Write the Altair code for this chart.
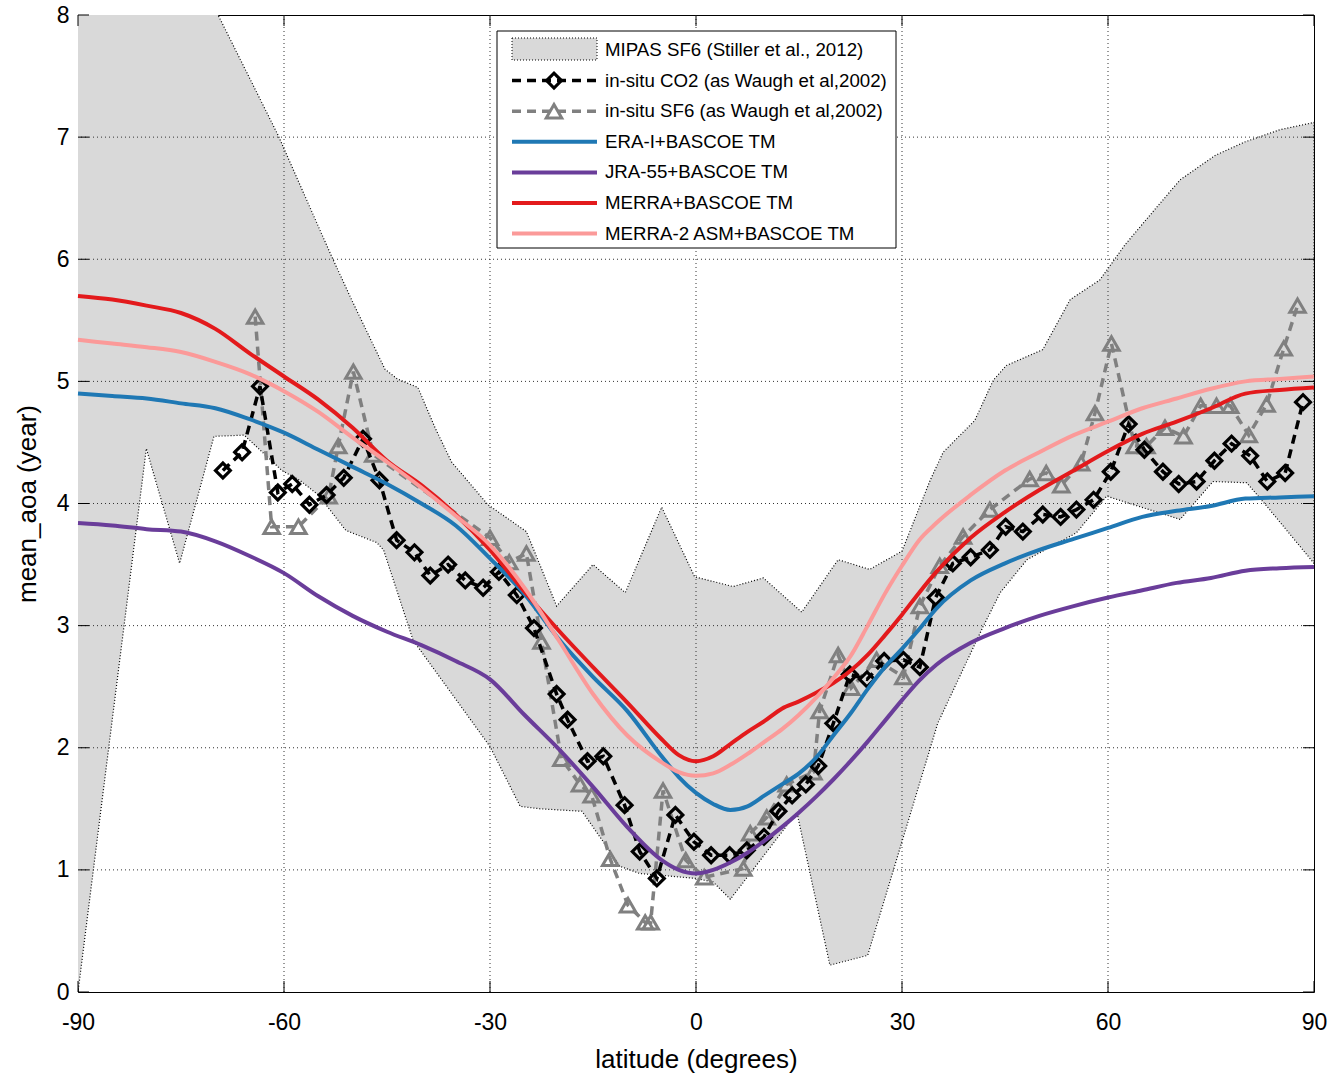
import altair as alt
import pandas as pd

# ---------------- data ----------------
mipas_upper_lat = [-90, -69.6, -60.9, -53.2, -50.0, -45.3, -43.5, -40.5, -38.0, -35.6, -30.3, -24.7,
                   -20.3, -15.0, -10.3, -5.0, -0.2, 5.4, 9.8, 15.4, 20.7, 25.3, 30.0, 34.1, 36.0,
                   40.6, 43.3, 45.2, 50.5, 54.5, 58.8, 62.5, 66.1, 70.5, 75.6, 79.9, 85.0, 90.0]
mipas_upper_val = [10.3, 8.0, 7.02, 6.04, 5.65, 5.10, 5.02, 4.95, 4.62, 4.34, 3.99, 3.77,
                   3.16, 3.50, 3.27, 3.97, 3.40, 3.32, 3.39, 3.11, 3.54, 3.46, 3.61, 4.19, 4.42,
                   4.68, 5.01, 5.13, 5.26, 5.67, 5.83, 6.12, 6.36, 6.65, 6.85, 6.96, 7.06, 7.12]

mipas_lower_lat = [-90, -80.05, -75.2, -70.2, -65.8, -60.3, -57.7, -55.0, -51.0, -46.5, -45.5, -41.2,
                   -30.0, -25.6, -22.7, -16.6, -13.0, -11.1, -8.2, -4.0, 0.0, 2.5, 5.0, 14.7, 19.5,
                   25.0, 35.2, 41.8, 44.3, 48.2, 55.4, 59.8, 70.5, 75.3, 80.2, 83.1, 90.0]
mipas_lower_val = [0.0, 4.45, 3.51, 4.55, 4.56, 4.27, 4.19, 4.07, 3.78, 3.68, 3.62, 2.88,
                   2.01, 1.52, 1.50, 1.48, 1.19, 1.03, 0.97, 0.95, 0.93, 0.90, 0.76, 1.47, 0.22,
                   0.30, 2.20, 2.99, 3.27, 3.54, 3.76, 4.06, 3.87, 4.18, 4.17, 3.98, 3.51]

co2_lat = [-68.9, -66.1, -63.5, -60.9, -58.8, -56.3, -53.8, -51.3, -48.5, -46.1, -43.6, -41.0,
           -38.7, -36.1, -33.6, -31.0, -28.7, -26.1, -23.6, -20.3, -18.7, -15.8, -13.5, -10.4,
           -8.2, -5.7, -3.0, -0.3, 2.2, 4.9, 7.4, 9.9, 12.0, 14.0, 16.0, 17.8, 20.0, 22.4,
           24.9, 27.4, 30.2, 32.6, 34.9, 37.4, 40.0, 42.8, 45.1, 47.6, 50.5, 53.1, 55.4, 57.9,
           60.4, 63.0, 65.3, 68.0, 70.3, 72.9, 75.5, 78.0, 80.7, 83.2, 85.8, 88.4]
co2_val = [4.27, 4.42, 4.96, 4.09, 4.16, 3.99, 4.07, 4.21, 4.53, 4.19, 3.70, 3.60,
           3.41, 3.50, 3.37, 3.31, 3.44, 3.25, 2.98, 2.44, 2.23, 1.89, 1.93, 1.53,
           1.15, 0.93, 1.45, 1.23, 1.12, 1.12, 1.16, 1.27, 1.48, 1.61, 1.70, 1.85, 2.20, 2.60,
           2.56, 2.71, 2.72, 2.66, 3.23, 3.51, 3.56, 3.62, 3.81, 3.77, 3.91, 3.89, 3.95, 4.03,
           4.26, 4.65, 4.44, 4.26, 4.16, 4.18, 4.35, 4.49, 4.39, 4.18, 4.25, 4.83]

sf6_lat = [-64.2, -61.8, -57.9, -53.5, -52.1, -49.9, -47.0, -30.0, -27.2, -24.7, -22.5, -19.6,
           -16.9, -15.2, -12.5, -9.9, -7.4, -6.6, -4.8, -1.5, 1.2, 6.9, 7.9, 10.3, 13.2, 17.1,
           18.0, 20.7, 22.6, 26.3, 30.2, 32.6, 35.5, 38.9, 42.8, 48.6, 51.0, 53.2, 56.1, 58.1,
           60.5, 63.9, 65.6, 68.3, 71.0, 73.5, 75.8, 77.8, 80.5, 83.1, 85.6, 87.6]
sf6_val = [5.53, 3.81, 3.81, 4.06, 4.47, 5.08, 4.40, 3.72, 3.52, 3.59, 2.87, 1.91,
           1.70, 1.61, 1.09, 0.71, 0.57, 0.57, 1.65, 1.08, 0.94, 1.01, 1.30, 1.43, 1.70, 1.80,
           2.30, 2.76, 2.49, 2.72, 2.58, 3.16, 3.49, 3.73, 3.95, 4.20, 4.25, 4.15, 4.33, 4.74,
           5.31, 4.47, 4.47, 4.62, 4.55, 4.80, 4.80, 4.80, 4.56, 4.81, 5.27, 5.62]

model_lat = [-90, -85, -80, -75, -70, -65, -60, -55, -50, -45, -40, -35, -30, -25, -20, -15, -10,
             -5, -2.5, 0, 2.5, 5, 7.5, 10, 12.5, 15, 17.5, 20, 22.5, 25, 27.5, 30, 32.5, 35,
             40, 45, 50, 55, 60, 65, 70, 75, 80, 85, 90]
era_val = [4.90, 4.88, 4.86, 4.82, 4.78, 4.69, 4.58, 4.44, 4.30, 4.16, 4.00, 3.82, 3.55, 3.26,
           2.89, 2.58, 2.30, 1.93, 1.76, 1.63, 1.54, 1.49, 1.52, 1.61, 1.70, 1.79, 1.92, 2.10,
           2.28, 2.48, 2.66, 2.81, 2.97, 3.14, 3.37, 3.51, 3.62, 3.71, 3.80, 3.89, 3.94, 3.98,
           4.04, 4.05, 4.06]
jra_val = [3.84, 3.82, 3.79, 3.77, 3.69, 3.57, 3.43, 3.24, 3.08, 2.95, 2.84, 2.71, 2.56, 2.27,
           1.99, 1.68, 1.35, 1.08, 1.00, 0.97, 1.00, 1.06, 1.14, 1.24, 1.35, 1.47, 1.60, 1.74,
           1.89, 2.05, 2.22, 2.39, 2.55, 2.68, 2.86, 2.98, 3.08, 3.16, 3.23, 3.29, 3.35, 3.39,
           3.45, 3.47, 3.48]
merra_val = [5.70, 5.67, 5.62, 5.56, 5.43, 5.23, 5.04, 4.85, 4.62, 4.35, 4.15, 3.91, 3.62, 3.28,
             2.96, 2.66, 2.37, 2.07, 1.94, 1.89, 1.93, 2.03, 2.13, 2.22, 2.32, 2.38, 2.45, 2.53,
             2.63, 2.76, 2.92, 3.09, 3.27, 3.44, 3.72, 3.93, 4.11, 4.27, 4.43, 4.57, 4.67, 4.78,
             4.90, 4.93, 4.95]
merra2_val = [5.34, 5.31, 5.28, 5.24, 5.16, 5.06, 4.92, 4.75, 4.54, 4.34, 4.13, 3.90, 3.66, 3.31,
              2.88, 2.44, 2.10, 1.88, 1.80, 1.77, 1.79, 1.86, 1.95, 2.05, 2.15, 2.27, 2.41, 2.57,
              2.75, 3.00, 3.26, 3.49, 3.70, 3.84, 4.07, 4.27, 4.42, 4.56, 4.67, 4.78, 4.86, 4.94,
              5.00, 5.02, 5.04]

x_ticks = [-90, -60, -30, 0, 30, 60, 90]
y_ticks = [0, 1, 2, 3, 4, 5, 6, 7, 8]

legend_labels = ["MIPAS SF6 (Stiller et al., 2012)",
                 "in-situ CO2 (as Waugh et al,2002)",
                 "in-situ SF6 (as Waugh et al,2002)",
                 "ERA-I+BASCOE TM",
                 "JRA-55+BASCOE TM",
                 "MERRA+BASCOE TM",
                 "MERRA-2 ASM+BASCOE TM"]

# ---------------- styling ----------------
FONT = "Liberation Sans"
W, H = 1236, 977
C_BAND = "#d9d9d9"
C_ERA, C_JRA, C_MERRA, C_MERRA2 = "#1f78b4", "#6a3d9a", "#e31a1c", "#fb9a99"
C_SF6 = "#808080"

x_scale = alt.Scale(domain=[-90, 90], nice=False, zero=False)
y_scale = alt.Scale(domain=[0, 8], nice=False, zero=False)
x_axis = alt.Axis(values=x_ticks, title="latitude (degrees)", grid=False, ticks=False, tickSize=0,
                  domain=False, labelFlush=False, labelOverlap=False, labelPadding=19,
                  labelFontSize=23, labelFont=FONT, labelColor="black",
                  labelExpr="'' + datum.value",
                  titleFontSize=26, titleFont=FONT, titleFontWeight="normal", titleColor="black",
                  titlePadding=12)
y_axis = alt.Axis(values=y_ticks, title="mean_aoa (year)", grid=False, ticks=False, tickSize=0,
                  domain=False, labelFlush=False, labelOverlap=False, labelPadding=9,
                  labelFontSize=23, labelFont=FONT, labelColor="black",
                  labelExpr="'' + datum.value",
                  titleFontSize=26, titleFont=FONT, titleFontWeight="normal", titleColor="black",
                  titlePadding=16)


def X(field):
    return alt.X(field, type="quantitative", scale=x_scale, axis=x_axis)


def Y(field):
    return alt.Y(field, type="quantitative", scale=y_scale, axis=y_axis)


# ---------------- band polygon ----------------
band_lat = mipas_upper_lat + mipas_lower_lat[::-1]
band_val = mipas_upper_val + mipas_lower_val[::-1]
band_df = pd.DataFrame({"lat": band_lat, "val": band_val, "ord": list(range(len(band_lat)))})
band = alt.Chart(band_df).mark_line(
    fill=C_BAND, stroke="black", strokeWidth=1.2, strokeDash=[1, 2], clip=True
).encode(x=X("lat"), y=Y("val"), order=alt.Order("ord:Q"))

# ---------------- grid ----------------
grid_x = alt.Chart(pd.DataFrame({"v": x_ticks[1:-1]})).mark_rule(
    color="#333", strokeWidth=1, strokeDash=[1, 3]
).encode(x=X("v"))
grid_y = alt.Chart(pd.DataFrame({"v": y_ticks[1:-1]})).mark_rule(
    color="#333", strokeWidth=1, strokeDash=[1, 3]
).encode(y=Y("v"))

# ---------------- in-situ ----------------
sf6_df = pd.DataFrame({"lat": sf6_lat, "val": sf6_val})
co2_df = pd.DataFrame({"lat": co2_lat, "val": co2_val})
sf6_line = alt.Chart(sf6_df).mark_line(color=C_SF6, strokeWidth=3.5, strokeDash=[9, 6]).encode(
    x=X("lat"), y=Y("val"))
sf6_pts = alt.Chart(sf6_df).mark_point(shape="triangle-up", size=240, filled=False, stroke=C_SF6,
                                       strokeWidth=3, opacity=1).encode(x=X("lat"), y=Y("val"))
co2_line = alt.Chart(co2_df).mark_line(color="black", strokeWidth=3.5, strokeDash=[9, 6]).encode(
    x=X("lat"), y=Y("val"))
co2_pts = alt.Chart(co2_df).mark_point(shape="diamond", size=220, filled=False, stroke="black",
                                       strokeWidth=3.2, opacity=1).encode(x=X("lat"), y=Y("val"))

# ---------------- models ----------------
model_layers = []
for vals, col in [(era_val, C_ERA), (jra_val, C_JRA), (merra_val, C_MERRA), (merra2_val, C_MERRA2)]:
    df = pd.DataFrame({"lat": model_lat, "val": vals})
    model_layers.append(
        alt.Chart(df).mark_line(color=col, strokeWidth=4, interpolate="monotone").encode(
            x=X("lat"), y=Y("val")))

# ---------------- inward ticks ----------------
xt = pd.DataFrame({"v": x_ticks})
yt = pd.DataFrame({"v": y_ticks})
tick_layers = [
    alt.Chart(xt).mark_rule(color="black", strokeWidth=1).encode(x=X("v"), y=alt.value(H), y2=alt.value(H - 11)),
    alt.Chart(xt).mark_rule(color="black", strokeWidth=1).encode(x=X("v"), y=alt.value(0), y2=alt.value(11)),
    alt.Chart(yt).mark_rule(color="black", strokeWidth=1).encode(y=Y("v"), x=alt.value(0), x2=alt.value(11)),
    alt.Chart(yt).mark_rule(color="black", strokeWidth=1).encode(y=Y("v"), x=alt.value(W - 11), x2=alt.value(W)),
]

# ---------------- legend (layout in pixels) ----------------
one = pd.DataFrame({"a": [0]})
LX0, LX1, LY0, LY1 = 419, 818, 16, 233
SX0, SX1, SMID, TX = 434, 519, 476, 527
row_y = [35 + i * 30.6 for i in range(len(legend_labels))]

leg = [alt.Chart(one).mark_rect(fill="white", stroke="black", strokeWidth=1).encode(
    x=alt.value(LX0), x2=alt.value(LX1), y=alt.value(LY0), y2=alt.value(LY1))]
# MIPAS swatch
leg.append(alt.Chart(one).mark_rect(fill=C_BAND, stroke="black", strokeWidth=1, strokeDash=[1, 2]).encode(
    x=alt.value(SX0), x2=alt.value(SX1), y=alt.value(row_y[0] - 12), y2=alt.value(row_y[0] + 10)))
# CO2
leg.append(alt.Chart(one).mark_rule(color="black", strokeWidth=3.5, strokeDash=[9, 6]).encode(
    x=alt.value(SX0), x2=alt.value(SX1), y=alt.value(row_y[1])))
leg.append(alt.Chart(one).mark_point(shape="diamond", size=220, filled=False, stroke="black",
                                     strokeWidth=3.2, opacity=1).encode(x=alt.value(SMID), y=alt.value(row_y[1])))
# SF6
leg.append(alt.Chart(one).mark_rule(color=C_SF6, strokeWidth=3.5, strokeDash=[9, 6]).encode(
    x=alt.value(SX0), x2=alt.value(SX1), y=alt.value(row_y[2])))
leg.append(alt.Chart(one).mark_point(shape="triangle-up", size=240, filled=False, stroke=C_SF6,
                                     strokeWidth=3, opacity=1).encode(x=alt.value(SMID), y=alt.value(row_y[2])))
for i, col in zip(range(3, 7), [C_ERA, C_JRA, C_MERRA, C_MERRA2]):
    leg.append(alt.Chart(one).mark_rule(color=col, strokeWidth=4).encode(
        x=alt.value(SX0), x2=alt.value(SX1), y=alt.value(row_y[i])))
for i, lab in enumerate(legend_labels):
    leg.append(alt.Chart(one).mark_text(align="left", baseline="middle", fontSize=18.7, font=FONT,
                                        color="black").encode(
        x=alt.value(TX), y=alt.value(row_y[i]), text=alt.value(lab)))

chart = alt.layer(
    band, grid_x, grid_y, sf6_line, sf6_pts, co2_line, co2_pts, *model_layers, *tick_layers, *leg
).properties(
    width=W, height=H,
    padding={"left": 78, "top": 15, "right": 16, "bottom": 82},
    autosize=alt.AutoSizeParams(type="none"),
    background="white",
).configure_view(stroke="black", strokeWidth=1)

chart.save("out.html", embed_options={"renderer": "svg", "actions": False})
